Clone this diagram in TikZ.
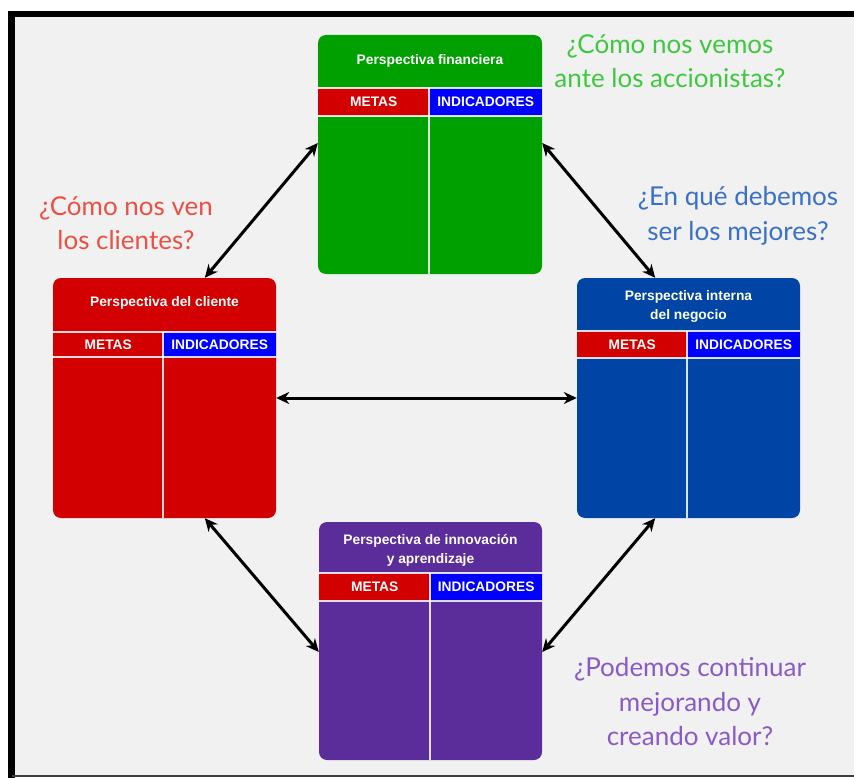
\documentclass[tikz,border=0pt]{standalone}
\usepackage{fontspec}
\setmainfont{Liberation Sans}
\newfontfamily\qfont{Lato}
\usetikzlibrary{arrows.meta,calc}
\definecolor{bgc}{HTML}{F1F1F1}
\definecolor{cgreen}{HTML}{00A000}
\definecolor{cred}{HTML}{D20000}
\definecolor{cbar}{HTML}{0000FF}
\definecolor{cblue}{HTML}{0045A6}
\definecolor{cpurple}{HTML}{5B2D9B}
\definecolor{tgreen}{HTML}{3FC83F}
\definecolor{tred}{HTML}{EC5045}
\definecolor{tblue}{HTML}{3A70C8}
\definecolor{tpurple}{HTML}{8A5AC8}
\tikzset{
  pbox/.style={draw=none, rounded corners=8pt, inner sep=0pt},
  ptitle/.style={text=white, font=\fontsize{13.8}{19}\selectfont\bfseries, align=center, inner sep=0pt},
  cell/.style={anchor=north west, inner sep=0pt, text=white, font=\fontsize{13.8}{16}\selectfont\bfseries},
  wline/.style={draw=white, line width=1.2pt, opacity=0.85},
  quest/.style={font=\qfont\fontsize{26}{34.5}\selectfont, align=center, inner sep=0pt},
  dbl/.style={line width=3pt, {Stealth[length=13pt,width=12pt]}-{Stealth[length=13pt,width=12pt]}}
}
% #1 name, #2 x1, #3 y1, #4 x2, #5 y2, #6 colour, #7 title y, #8 title
\newcommand\perspbox[8]{%
  \node[pbox, fill=#6, minimum width={(#4-#2)*1pt}, minimum height={(#5-#3)*1pt}] (#1) at ({(#2+#4)/2},{(#3+#5)/2}) {};
  \node[ptitle] (#1t) at ({(#2+#4)/2},#7) {#8};
}
% #1 name, #2 x1, #3 x2, #4 bar top, #5 bar bottom, #6 div x, #7 metas colour, #8 box bottom
\newcommand\perspbar[8]{%
  \node[cell, fill=#7, minimum width={(#6-#2)*1pt}, minimum height={(#5-#4)*1pt}] (#1m) at (#2,#4) {METAS};
  \node[cell, fill=cbar, minimum width={(#3-#6)*1pt}, minimum height={(#5-#4)*1pt}] (#1i) at (#6,#4) {INDICADORES};
  \draw[wline] (#2,#4) -- (#3,#4);
  \draw[wline] (#2,#5) -- (#3,#5);
  \draw[wline] (#6,#4) -- (#6,#8);
}
\begin{document}
\begin{tikzpicture}[x=1pt,y=-1pt]
\useasboundingbox (0,0) rectangle (854,778);
\fill[white] (0,0) rectangle (854,778);
\fill[bgc] (12,14) rectangle (854,776);
\draw[line width=6.5pt] (11.5,778) -- (11.5,14) -- (854,14);
\draw[line width=1.6pt, black!75] (12,776) -- (854,776);

% boxes
\perspbox{fin}{318}{35}{542}{274}{cgreen}{61}{Perspectiva financiera}
\perspbar{fin}{318}{542}{88}{116}{429}{cred}{274}
\perspbox{cli}{53}{278}{276}{518}{cred}{303}{Perspectiva del cliente}
\perspbar{cli}{53}{276}{332}{357}{163}{cred}{518}
\perspbox{int}{577}{278}{800}{518}{cblue}{306.5}{Perspectiva interna\\del negocio}
\perspbar{int}{577}{800}{331}{358}{687}{cred}{518}
\perspbox{inn}{319}{522}{542}{760}{cpurple}{550.5}{Perspectiva de innovación\\y aprendizaje}
\perspbar{inn}{319}{542}{573}{601}{430}{cred}{760}

% questions
\node[quest, text=tgreen] (q1) at (670,61) {¿Cómo nos vemos\\ante los accionistas?};
\node[quest, text=tred] (q2) at (126,223) {¿Cómo nos ven\\los clientes?};
\node[quest, text=tblue] (q3) at (738,216) {¿En qué debemos\\ser los mejores?};
\node[quest, text=tpurple] (q4) at (690,702) {¿Podemos continuar\\mejorando y\\creando valor?};

% arrows
\draw[dbl] ([yshift=11.5pt]fin.west) -- ([xshift=152pt]cli.north west);
\draw[dbl] ([yshift=11.5pt]fin.east) -- ([xshift=-145pt]int.north east);
\draw[dbl] ([xshift=152pt]cli.south west) -- ([yshift=-11pt]inn.west);
\draw[dbl] ([xshift=-145pt]int.south east) -- ([yshift=-11pt]inn.east);
\draw[dbl] (cli.east) -- (int.west);
\end{tikzpicture}
\end{document}
